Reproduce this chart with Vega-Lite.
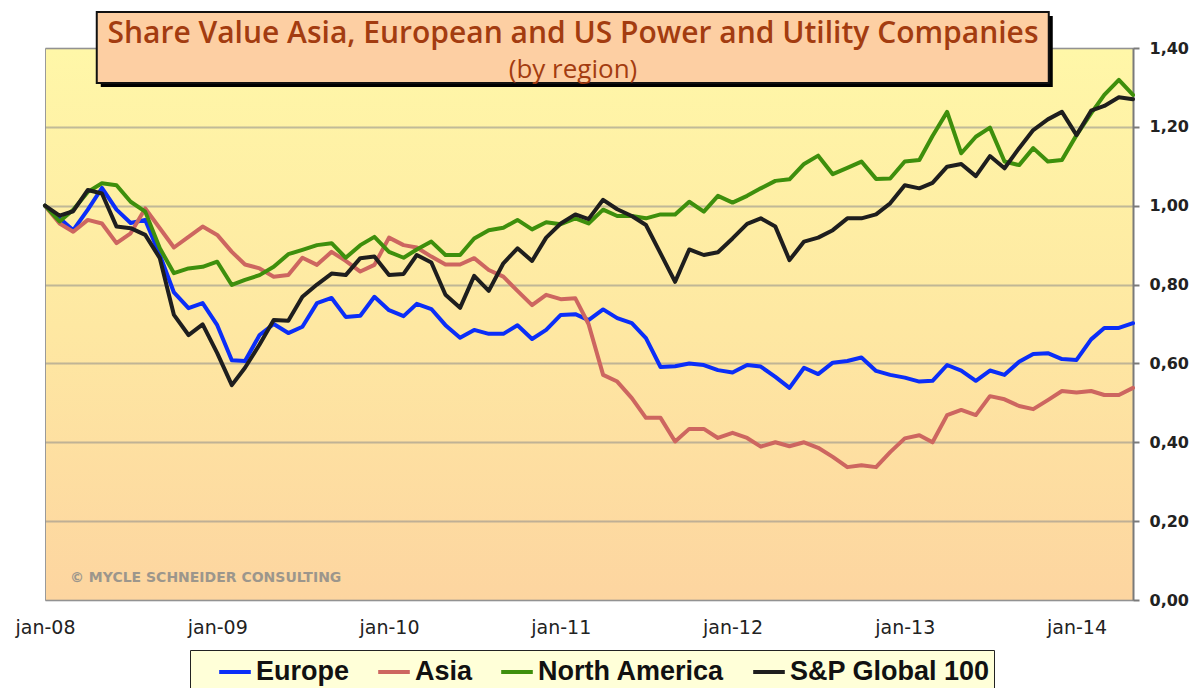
{
  "$schema": "https://vega.github.io/schema/vega-lite/v6.json",
  "width": 1088,
  "height": 552,
  "autosize": {"type": "none"},
  "padding": {"left": 45, "top": 48, "right": 62, "bottom": 88},
  "background": "white",
  "config": {
    "view": {
      "fill": {"gradient": "linear", "x1": 0, "y1": 0, "x2": 0, "y2": 1,
        "stops": [{"offset": 0, "color": "#FFF7A8"}, {"offset": 0.5, "color": "#FEE8A2"}, {"offset": 1, "color": "#FDD5A0"}]},
      "stroke": "#9a9a9a",
      "strokeWidth": 1
    },
    "font": "DejaVu Sans"
  },
  "layer": [
    {
      "data": {"values": [
        {"date": "2008-01-01", "Europe": 1.0, "Asia": 1.0, "North America": 1.0, "S&P Global 100": 1.0},
        {"date": "2008-02-01", "Europe": 0.968, "Asia": 0.955, "North America": 0.96, "S&P Global 100": 0.975},
        {"date": "2008-03-01", "Europe": 0.938, "Asia": 0.934, "North America": 0.99, "S&P Global 100": 0.986},
        {"date": "2008-04-01", "Europe": 0.99, "Asia": 0.964, "North America": 1.035, "S&P Global 100": 1.04},
        {"date": "2008-05-01", "Europe": 1.045, "Asia": 0.955, "North America": 1.057, "S&P Global 100": 1.031},
        {"date": "2008-06-01", "Europe": 0.99, "Asia": 0.905, "North America": 1.052, "S&P Global 100": 0.947},
        {"date": "2008-07-01", "Europe": 0.956, "Asia": 0.93, "North America": 1.01, "S&P Global 100": 0.943},
        {"date": "2008-08-01", "Europe": 0.964, "Asia": 0.993, "North America": 0.985, "S&P Global 100": 0.926},
        {"date": "2008-09-01", "Europe": 0.875, "Asia": 0.943, "North America": 0.892, "S&P Global 100": 0.867},
        {"date": "2008-10-01", "Europe": 0.78, "Asia": 0.894, "North America": 0.829, "S&P Global 100": 0.723},
        {"date": "2008-11-01", "Europe": 0.74, "Asia": 0.921, "North America": 0.841, "S&P Global 100": 0.672},
        {"date": "2008-12-01", "Europe": 0.753, "Asia": 0.947, "North America": 0.845, "S&P Global 100": 0.699},
        {"date": "2009-01-01", "Europe": 0.697, "Asia": 0.926, "North America": 0.858, "S&P Global 100": 0.626},
        {"date": "2009-02-01", "Europe": 0.608, "Asia": 0.883, "North America": 0.799, "S&P Global 100": 0.545},
        {"date": "2009-03-01", "Europe": 0.606, "Asia": 0.851, "North America": 0.812, "S&P Global 100": 0.589},
        {"date": "2009-04-01", "Europe": 0.672, "Asia": 0.841, "North America": 0.824, "S&P Global 100": 0.648},
        {"date": "2009-05-01", "Europe": 0.70, "Asia": 0.82, "North America": 0.845, "S&P Global 100": 0.71},
        {"date": "2009-06-01", "Europe": 0.677, "Asia": 0.824, "North America": 0.877, "S&P Global 100": 0.708},
        {"date": "2009-07-01", "Europe": 0.693, "Asia": 0.868, "North America": 0.888, "S&P Global 100": 0.769},
        {"date": "2009-08-01", "Europe": 0.753, "Asia": 0.85, "North America": 0.90, "S&P Global 100": 0.80},
        {"date": "2009-09-01", "Europe": 0.766, "Asia": 0.883, "North America": 0.905, "S&P Global 100": 0.828},
        {"date": "2009-10-01", "Europe": 0.718, "Asia": 0.86, "North America": 0.868, "S&P Global 100": 0.824},
        {"date": "2009-11-01", "Europe": 0.721, "Asia": 0.833, "North America": 0.90, "S&P Global 100": 0.867},
        {"date": "2009-12-01", "Europe": 0.769, "Asia": 0.85, "North America": 0.921, "S&P Global 100": 0.871},
        {"date": "2010-01-01", "Europe": 0.735, "Asia": 0.919, "North America": 0.883, "S&P Global 100": 0.824},
        {"date": "2010-02-01", "Europe": 0.72, "Asia": 0.90, "North America": 0.868, "S&P Global 100": 0.827},
        {"date": "2010-03-01", "Europe": 0.751, "Asia": 0.894, "North America": 0.889, "S&P Global 100": 0.875},
        {"date": "2010-04-01", "Europe": 0.738, "Asia": 0.871, "North America": 0.909, "S&P Global 100": 0.856},
        {"date": "2010-05-01", "Europe": 0.697, "Asia": 0.851, "North America": 0.875, "S&P Global 100": 0.774},
        {"date": "2010-06-01", "Europe": 0.665, "Asia": 0.851, "North America": 0.875, "S&P Global 100": 0.741},
        {"date": "2010-07-01", "Europe": 0.685, "Asia": 0.867, "North America": 0.917, "S&P Global 100": 0.822},
        {"date": "2010-08-01", "Europe": 0.675, "Asia": 0.837, "North America": 0.938, "S&P Global 100": 0.784},
        {"date": "2010-09-01", "Europe": 0.675, "Asia": 0.82, "North America": 0.944, "S&P Global 100": 0.854},
        {"date": "2010-10-01", "Europe": 0.697, "Asia": 0.784, "North America": 0.964, "S&P Global 100": 0.892},
        {"date": "2010-11-01", "Europe": 0.662, "Asia": 0.748, "North America": 0.94, "S&P Global 100": 0.86},
        {"date": "2010-12-01", "Europe": 0.685, "Asia": 0.774, "North America": 0.958, "S&P Global 100": 0.919},
        {"date": "2011-01-01", "Europe": 0.723, "Asia": 0.763, "North America": 0.953, "S&P Global 100": 0.955},
        {"date": "2011-02-01", "Europe": 0.725, "Asia": 0.765, "North America": 0.968, "S&P Global 100": 0.978},
        {"date": "2011-03-01", "Europe": 0.71, "Asia": 0.70, "North America": 0.955, "S&P Global 100": 0.966},
        {"date": "2011-04-01", "Europe": 0.737, "Asia": 0.571, "North America": 0.99, "S&P Global 100": 1.015},
        {"date": "2011-05-01", "Europe": 0.715, "Asia": 0.554, "North America": 0.974, "S&P Global 100": 0.991},
        {"date": "2011-06-01", "Europe": 0.702, "Asia": 0.512, "North America": 0.974, "S&P Global 100": 0.974},
        {"date": "2011-07-01", "Europe": 0.664, "Asia": 0.462, "North America": 0.968, "S&P Global 100": 0.951},
        {"date": "2011-08-01", "Europe": 0.591, "Asia": 0.462, "North America": 0.978, "S&P Global 100": 0.879},
        {"date": "2011-09-01", "Europe": 0.593, "Asia": 0.402, "North America": 0.978, "S&P Global 100": 0.807},
        {"date": "2011-10-01", "Europe": 0.60, "Asia": 0.434, "North America": 1.01, "S&P Global 100": 0.889},
        {"date": "2011-11-01", "Europe": 0.596, "Asia": 0.434, "North America": 0.985, "S&P Global 100": 0.875},
        {"date": "2011-12-01", "Europe": 0.583, "Asia": 0.411, "North America": 1.025, "S&P Global 100": 0.882},
        {"date": "2012-01-01", "Europe": 0.577, "Asia": 0.424, "North America": 1.008, "S&P Global 100": 0.917},
        {"date": "2012-02-01", "Europe": 0.596, "Asia": 0.411, "North America": 1.025, "S&P Global 100": 0.954},
        {"date": "2012-03-01", "Europe": 0.592, "Asia": 0.389, "North America": 1.044, "S&P Global 100": 0.968},
        {"date": "2012-04-01", "Europe": 0.566, "Asia": 0.40, "North America": 1.063, "S&P Global 100": 0.947},
        {"date": "2012-05-01", "Europe": 0.538, "Asia": 0.39, "North America": 1.067, "S&P Global 100": 0.862},
        {"date": "2012-06-01", "Europe": 0.589, "Asia": 0.40, "North America": 1.106, "S&P Global 100": 0.909},
        {"date": "2012-07-01", "Europe": 0.573, "Asia": 0.386, "North America": 1.127, "S&P Global 100": 0.919},
        {"date": "2012-08-01", "Europe": 0.602, "Asia": 0.363, "North America": 1.08, "S&P Global 100": 0.938},
        {"date": "2012-09-01", "Europe": 0.606, "Asia": 0.337, "North America": 1.096, "S&P Global 100": 0.968},
        {"date": "2012-10-01", "Europe": 0.615, "Asia": 0.342, "North America": 1.112, "S&P Global 100": 0.968},
        {"date": "2012-11-01", "Europe": 0.581, "Asia": 0.337, "North America": 1.068, "S&P Global 100": 0.978},
        {"date": "2012-12-01", "Europe": 0.571, "Asia": 0.375, "North America": 1.069, "S&P Global 100": 1.006},
        {"date": "2013-01-01", "Europe": 0.564, "Asia": 0.41, "North America": 1.112, "S&P Global 100": 1.052},
        {"date": "2013-02-01", "Europe": 0.554, "Asia": 0.418, "North America": 1.116, "S&P Global 100": 1.044},
        {"date": "2013-03-01", "Europe": 0.556, "Asia": 0.40, "North America": 1.177, "S&P Global 100": 1.058},
        {"date": "2013-04-01", "Europe": 0.596, "Asia": 0.469, "North America": 1.238, "S&P Global 100": 1.099},
        {"date": "2013-05-01", "Europe": 0.582, "Asia": 0.482, "North America": 1.133, "S&P Global 100": 1.106},
        {"date": "2013-06-01", "Europe": 0.556, "Asia": 0.469, "North America": 1.175, "S&P Global 100": 1.075},
        {"date": "2013-07-01", "Europe": 0.582, "Asia": 0.517, "North America": 1.198, "S&P Global 100": 1.126},
        {"date": "2013-08-01", "Europe": 0.571, "Asia": 0.509, "North America": 1.112, "S&P Global 100": 1.095},
        {"date": "2013-09-01", "Europe": 0.604, "Asia": 0.492, "North America": 1.103, "S&P Global 100": 1.146},
        {"date": "2013-10-01", "Europe": 0.624, "Asia": 0.484, "North America": 1.146, "S&P Global 100": 1.192},
        {"date": "2013-11-01", "Europe": 0.626, "Asia": 0.507, "North America": 1.112, "S&P Global 100": 1.219},
        {"date": "2013-12-01", "Europe": 0.611, "Asia": 0.53, "North America": 1.116, "S&P Global 100": 1.238},
        {"date": "2014-01-01", "Europe": 0.609, "Asia": 0.526, "North America": 1.179, "S&P Global 100": 1.179},
        {"date": "2014-02-01", "Europe": 0.661, "Asia": 0.53, "North America": 1.234, "S&P Global 100": 1.241},
        {"date": "2014-03-01", "Europe": 0.69, "Asia": 0.52, "North America": 1.281, "S&P Global 100": 1.253},
        {"date": "2014-04-01", "Europe": 0.69, "Asia": 0.52, "North America": 1.319, "S&P Global 100": 1.275},
        {"date": "2014-05-01", "Europe": 0.702, "Asia": 0.538, "North America": 1.281, "S&P Global 100": 1.27}
      ]},
      "transform": [{"fold": ["Europe", "Asia", "North America", "S&P Global 100"], "as": ["series", "value"]}],
      "mark": {"type": "line", "strokeWidth": 4, "strokeJoin": "round", "strokeCap": "round"},
      "encoding": {
        "x": {
          "field": "date", "type": "temporal",
          "scale": {"type": "utc", "nice": false, "domain": [{"year": 2008, "month": 1, "date": 1, "utc": true}, {"year": 2014, "month": 5, "date": 1, "utc": true}]},
          "axis": {
            "orient": "bottom", "title": null, "grid": false, "domain": false, "ticks": false, "tickSize": 0,
            "values": [
              {"year": 2008, "month": 1, "date": 1, "utc": true},
              {"year": 2009, "month": 1, "date": 1, "utc": true},
              {"year": 2010, "month": 1, "date": 1, "utc": true},
              {"year": 2011, "month": 1, "date": 1, "utc": true},
              {"year": 2012, "month": 1, "date": 1, "utc": true},
              {"year": 2013, "month": 1, "date": 1, "utc": true},
              {"year": 2014, "month": 1, "date": 1, "utc": true}
            ],
            "labelExpr": "'jan-' + utcFormat(datum.value, '%y')",
            "labelFlush": false, "labelOverlap": false,
            "labelPadding": 18, "labelFont": "DejaVu Sans", "labelFontSize": 19, "labelColor": "#222222"
          }
        },
        "y": {
          "field": "value", "type": "quantitative",
          "scale": {"domain": [0, 1.4], "nice": false, "zero": true},
          "axis": {
            "orient": "right", "title": null,
            "values": [0, 0.2, 0.4, 0.6, 0.8, 1.0, 1.2, 1.4],
            "labelExpr": "replace(format(datum.value, '.2f'), '.', ',')",
            "grid": true, "gridColor": "#8c8c8c", "gridOpacity": 0.55, "gridWidth": 2,
            "domainColor": "#7a7a7a", "domainWidth": 2,
            "tickColor": "#7a7a7a", "tickWidth": 2, "tickSize": 6,
            "labelPadding": 10, "labelFont": "DejaVu Sans", "labelFontSize": 16, "labelFontWeight": "bold", "labelColor": "#222222"
          }
        },
        "color": {
          "field": "series", "type": "nominal",
          "scale": {"domain": ["Europe", "Asia", "North America", "S&P Global 100"], "range": ["#0B2EF8", "#CD6660", "#3E8F0C", "#1E1E1E"]},
          "legend": {
            "orient": "none", "legendX": 145, "legendY": 602, "direction": "horizontal", "title": null,
            "symbolType": "stroke", "symbolStrokeWidth": 4, "symbolSize": 1000, "symbolOffset": 23,
            "labelFont": "Liberation Sans", "labelFontSize": 27, "labelFontWeight": "bold", "labelColor": "#111111",
            "labelOffset": 3, "columnPadding": 3, "labelLimit": 500,
            "fillColor": "#FFFFD8", "strokeColor": "#222222", "padding": 4
          }
        }
      }
    },
    {
      "data": {"values": [{"label": "© MYCLE SCHNEIDER CONSULTING"}]},
      "mark": {"type": "text", "align": "left", "baseline": "middle", "font": "DejaVu Sans", "fontWeight": "bold", "fontSize": 14, "color": "#9c968c"},
      "encoding": {
        "x": {"datum": {"year": 2008, "month": 2, "date": 23, "utc": true}, "type": "temporal"},
        "y": {"datum": 0.056, "type": "quantitative"},
        "text": {"field": "label"}
      }
    },
    {
      "data": {"values": [{}]},
      "mark": {"type": "rect", "fill": "#000000", "xOffset": 4, "x2Offset": 4, "yOffset": 4, "y2Offset": 4},
      "encoding": {
        "x": {"datum": {"year": 2008, "month": 4, "date": 20, "utc": true}, "type": "temporal"},
        "x2": {"datum": {"year": 2013, "month": 11, "date": 3, "utc": true}},
        "y": {"datum": 1.491, "type": "quantitative"},
        "y2": {"datum": 1.311}
      }
    },
    {
      "data": {"values": [{}]},
      "mark": {"type": "rect", "fill": "#FDCFA3", "stroke": "#111111", "strokeWidth": 2},
      "encoding": {
        "x": {"datum": {"year": 2008, "month": 4, "date": 20, "utc": true}, "type": "temporal"},
        "x2": {"datum": {"year": 2013, "month": 11, "date": 3, "utc": true}},
        "y": {"datum": 1.491, "type": "quantitative"},
        "y2": {"datum": 1.311}
      }
    },
    {
      "data": {"values": [{"t": "Share Value Asia, European and US Power and Utility Companies", "v": 1.435}]},
      "mark": {"type": "text", "align": "center", "baseline": "middle", "font": "Open Sans", "fontWeight": 600, "fontSize": 30, "color": "#A33C10"},
      "encoding": {
        "x": {"datum": {"year": 2011, "month": 1, "date": 27, "utc": true}, "type": "temporal"},
        "y": {"field": "v", "type": "quantitative"},
        "text": {"field": "t"}
      }
    },
    {
      "data": {"values": [{"t": "(by region)", "v": 1.343}]},
      "mark": {"type": "text", "align": "center", "baseline": "middle", "font": "Open Sans", "fontWeight": 400, "fontSize": 26, "color": "#A33C10"},
      "encoding": {
        "x": {"datum": {"year": 2011, "month": 1, "date": 27, "utc": true}, "type": "temporal"},
        "y": {"field": "v", "type": "quantitative"},
        "text": {"field": "t"}
      }
    }
  ]
}
